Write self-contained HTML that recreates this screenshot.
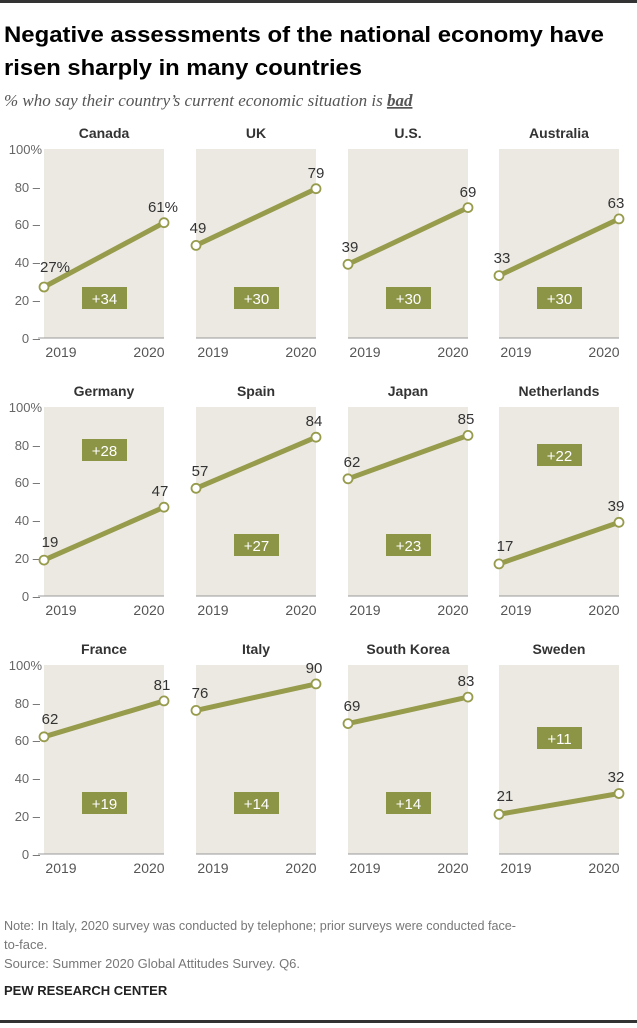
<!DOCTYPE html>
<html><head><meta charset="utf-8"><style>
body{margin:0;background:#fff;width:637px;height:1023px;overflow:hidden}
svg text{font-family:"Liberation Sans",sans-serif}
</style></head><body>
<svg width="637" height="1023" viewBox="0 0 637 1023" xmlns="http://www.w3.org/2000/svg">
<rect x="0" y="0" width="637" height="3" fill="#333"/>
<text x="4" y="42" font-size="22.5" font-weight="bold" fill="#000" textLength="600" lengthAdjust="spacingAndGlyphs">Negative assessments of the national economy have</text>
<text x="4" y="75" font-size="22.5" font-weight="bold" fill="#000" textLength="358" lengthAdjust="spacingAndGlyphs">risen sharply in many countries</text>
<text x="4" y="106" font-size="17" font-style="italic" fill="#555" style="font-family:'Liberation Serif',serif">% who say their country’s current economic situation is <tspan font-weight="bold" text-decoration="underline">bad</tspan></text>

<g id="grid" font-size="13" fill="#666">
<g fill="#ece9e2">
<rect x="44" y="149" width="120" height="189"/><rect x="196" y="149" width="120" height="189"/><rect x="348" y="149" width="120" height="189"/><rect x="499" y="149" width="120" height="189"/>
<rect x="44" y="407" width="120" height="189"/><rect x="196" y="407" width="120" height="189"/><rect x="348" y="407" width="120" height="189"/><rect x="499" y="407" width="120" height="189"/>
<rect x="44" y="665" width="120" height="189"/><rect x="196" y="665" width="120" height="189"/><rect x="348" y="665" width="120" height="189"/><rect x="499" y="665" width="120" height="189"/>
</g>
<g stroke="#999" stroke-width="1">
<line x1="38" y1="338" x2="164" y2="338"/><line x1="196" y1="338" x2="316" y2="338"/><line x1="348" y1="338" x2="468" y2="338"/><line x1="499" y1="338" x2="619" y2="338"/>
<line x1="38" y1="596" x2="164" y2="596"/><line x1="196" y1="596" x2="316" y2="596"/><line x1="348" y1="596" x2="468" y2="596"/><line x1="499" y1="596" x2="619" y2="596"/>
<line x1="38" y1="854" x2="164" y2="854"/><line x1="196" y1="854" x2="316" y2="854"/><line x1="348" y1="854" x2="468" y2="854"/><line x1="499" y1="854" x2="619" y2="854"/>
</g>
<g text-anchor="end" fill="#666">
<text x="42" y="154">100%</text><text x="40" y="192">80 –</text><text x="40" y="229">60 –</text><text x="40" y="267">40 –</text><text x="40" y="305">20 –</text><text x="40" y="343">0 –</text>
<text x="42" y="412">100%</text><text x="40" y="450">80 –</text><text x="40" y="487">60 –</text><text x="40" y="525">40 –</text><text x="40" y="563">20 –</text><text x="40" y="601">0 –</text>
<text x="42" y="670">100%</text><text x="40" y="708">80 –</text><text x="40" y="745">60 –</text><text x="40" y="783">40 –</text><text x="40" y="821">20 –</text><text x="40" y="859">0 –</text>
</g>
<g font-size="14" fill="#555" text-anchor="middle">
<text x="61" y="357">2019</text><text x="149" y="357">2020</text><text x="213" y="357">2019</text><text x="301" y="357">2020</text><text x="365" y="357">2019</text><text x="453" y="357">2020</text><text x="516" y="357">2019</text><text x="604" y="357">2020</text>
<text x="61" y="615">2019</text><text x="149" y="615">2020</text><text x="213" y="615">2019</text><text x="301" y="615">2020</text><text x="365" y="615">2019</text><text x="453" y="615">2020</text><text x="516" y="615">2019</text><text x="604" y="615">2020</text>
<text x="61" y="873">2019</text><text x="149" y="873">2020</text><text x="213" y="873">2019</text><text x="301" y="873">2020</text><text x="365" y="873">2019</text><text x="453" y="873">2020</text><text x="516" y="873">2019</text><text x="604" y="873">2020</text>
</g>
<g font-size="14" font-weight="bold" fill="#333" text-anchor="middle">
<text x="104" y="138">Canada</text><text x="256" y="138">UK</text><text x="408" y="138">U.S.</text><text x="559" y="138">Australia</text>
<text x="104" y="396">Germany</text><text x="256" y="396">Spain</text><text x="408" y="396">Japan</text><text x="559" y="396">Netherlands</text>
<text x="104" y="654">France</text><text x="256" y="654">Italy</text><text x="408" y="654">South Korea</text><text x="559" y="654">Sweden</text>
</g>
<g stroke="#979b4c" stroke-width="5" stroke-linecap="round">
<line x1="44" y1="287" x2="164" y2="222.7"/><line x1="196" y1="245.4" x2="316" y2="188.7"/><line x1="348" y1="264.3" x2="468" y2="207.6"/><line x1="499" y1="275.6" x2="619" y2="218.9"/>
<line x1="44" y1="560.1" x2="164" y2="507.2"/><line x1="196" y1="488.3" x2="316" y2="437.2"/><line x1="348" y1="478.8" x2="468" y2="435.4"/><line x1="499" y1="563.9" x2="619" y2="522.3"/>
<line x1="44" y1="736.8" x2="164" y2="700.9"/><line x1="196" y1="710.4" x2="316" y2="683.9"/><line x1="348" y1="723.6" x2="468" y2="697.1"/><line x1="499" y1="814.3" x2="619" y2="793.5"/>
</g>
<g fill="#fff" stroke="#979b4c" stroke-width="1.8">
<circle cx="44" cy="287" r="4.5"/><circle cx="164" cy="222.7" r="4.5"/><circle cx="196" cy="245.4" r="4.5"/><circle cx="316" cy="188.7" r="4.5"/><circle cx="348" cy="264.3" r="4.5"/><circle cx="468" cy="207.6" r="4.5"/><circle cx="499" cy="275.6" r="4.5"/><circle cx="619" cy="218.9" r="4.5"/>
<circle cx="44" cy="560.1" r="4.5"/><circle cx="164" cy="507.2" r="4.5"/><circle cx="196" cy="488.3" r="4.5"/><circle cx="316" cy="437.2" r="4.5"/><circle cx="348" cy="478.8" r="4.5"/><circle cx="468" cy="435.4" r="4.5"/><circle cx="499" cy="563.9" r="4.5"/><circle cx="619" cy="522.3" r="4.5"/>
<circle cx="44" cy="736.8" r="4.5"/><circle cx="164" cy="700.9" r="4.5"/><circle cx="196" cy="710.4" r="4.5"/><circle cx="316" cy="683.9" r="4.5"/><circle cx="348" cy="723.6" r="4.5"/><circle cx="468" cy="697.1" r="4.5"/><circle cx="499" cy="814.3" r="4.5"/><circle cx="619" cy="793.5" r="4.5"/>
</g>
<g font-size="15" fill="#333" text-anchor="middle">
<text x="55" y="272">27%</text><text x="163" y="212">61%</text><text x="198" y="233">49</text><text x="316" y="178">79</text><text x="350" y="252">39</text><text x="468" y="197">69</text><text x="502" y="263">33</text><text x="616" y="208">63</text>
<text x="50" y="547">19</text><text x="160" y="496">47</text><text x="200" y="476">57</text><text x="314" y="426">84</text><text x="352" y="467">62</text><text x="466" y="424">85</text><text x="505" y="551">17</text><text x="616" y="511">39</text>
<text x="50" y="724">62</text><text x="162" y="690">81</text><text x="200" y="698">76</text><text x="314" y="673">90</text><text x="352" y="711">69</text><text x="466" y="686">83</text><text x="505" y="801">21</text><text x="616" y="782">32</text>
</g>
<g fill="#8c9445">
<rect x="82" y="287" width="45" height="22"/><rect x="234" y="287" width="45" height="22"/><rect x="386" y="287" width="45" height="22"/><rect x="537" y="287" width="45" height="22"/>
<rect x="82" y="439" width="45" height="22"/><rect x="234" y="534" width="45" height="22"/><rect x="386" y="534" width="45" height="22"/><rect x="537" y="444" width="45" height="22"/>
<rect x="82" y="792" width="45" height="22"/><rect x="234" y="792" width="45" height="22"/><rect x="386" y="792" width="45" height="22"/><rect x="537" y="727" width="45" height="22"/>
</g>
<g font-size="15" fill="#fff" text-anchor="middle">
<text x="104.5" y="304">+34</text><text x="256.5" y="304">+30</text><text x="408.5" y="304">+30</text><text x="559.5" y="304">+30</text>
<text x="104.5" y="456">+28</text><text x="256.5" y="551">+27</text><text x="408.5" y="551">+23</text><text x="559.5" y="461">+22</text>
<text x="104.5" y="809">+19</text><text x="256.5" y="809">+14</text><text x="408.5" y="809">+14</text><text x="559.5" y="744">+11</text>
</g>
</g>
<g font-size="13" fill="#777">
<text x="4" y="930" textLength="512" lengthAdjust="spacingAndGlyphs">Note: In Italy, 2020 survey was conducted by telephone; prior surveys were conducted face-</text>
<text x="4" y="949">to-face.</text>
<text x="4" y="968">Source: Summer 2020 Global Attitudes Survey. Q6.</text>
</g>
<text x="4" y="995" font-size="13" font-weight="bold" fill="#222">PEW RESEARCH CENTER</text>
<rect x="0" y="1020" width="637" height="3" fill="#333"/>
</svg>
</body></html>
